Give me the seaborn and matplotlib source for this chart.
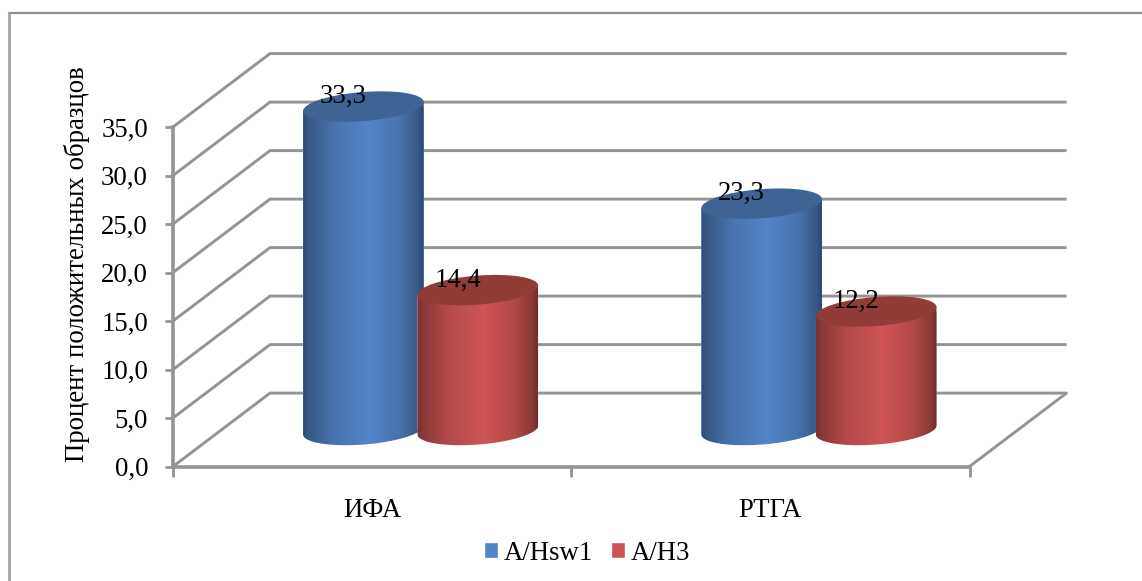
import numpy as np
import pandas as pd
import matplotlib.pyplot as plt
import seaborn as sns
from matplotlib.colors import LinearSegmentedColormap
from matplotlib.lines import Line2D
from matplotlib.patches import Ellipse
from matplotlib.path import Path
from matplotlib.transforms import IdentityTransform

methods = ['ИФА', 'РТГА']
series_names = ['A/Hsw1', 'A/H3']
hsw1_values = [33.3, 23.3]
h3_values = [14.4, 12.2]
y_ticks = [0, 5, 10, 15, 20, 25, 30, 35]

W, H = 1142, 581
GRAY = '#949494'

sns.set_theme(style='white')
plt.rcParams['font.family'] = ['Liberation Serif', 'DejaVu Serif']
FS = 19.3


def box(left, top, right, bottom):
    # pixel box to figure fractions
    return [left / W, 1 - bottom / H, (right - left) / W, (bottom - top) / H]


df = pd.DataFrame({
    'method': methods * 2,
    'series': [series_names[0]] * 2 + [series_names[1]] * 2,
    'value': hsw1_values + h3_values,
})

fig = plt.figure(figsize=(W / 100, H / 100), dpi=100, facecolor='white')
# chart frame, only the top and left edges are in the crop
fig.add_artist(Line2D([8.5 / W, 1], [1 - 12.5 / H, 1 - 12.5 / H], color='#8f8f8f', lw=1.6))
fig.add_artist(Line2D([8.5 / W, 8.5 / W], [0, 1 - 12.5 / H], color='#a3a3a3', lw=2))

# front plane of the fake 3d box, walls drawn from the ticks
ax = fig.add_axes(box(173, 127, 969.5, 466.5))
ax.set_xlim(-0.5, 1.5)
ax.set_ylim(0, 35)
ax.patch.set_alpha(0)
dx = 97 / 398.25
dy = 73.4 / 9.7
for v in y_ticks:
    ax.plot([-0.5, -0.5 + dx, 1.5 + dx], [v, v + dy, v + dy], color=GRAY, lw=2.1,
            clip_on=False, solid_joinstyle='miter', solid_capstyle='butt', zorder=1)
ax.plot([1.5, 1.5 + dx], [0, dy], color=GRAY, lw=2.1, clip_on=False, zorder=1)

sns.despine(ax=ax)
for side in ['left', 'bottom']:
    ax.spines[side].set_color(GRAY)
    ax.spines[side].set_linewidth(2.6)
ax.set_yticks(y_ticks)
ax.set_yticklabels([f'{v:.1f}'.replace('.', ',') for v in y_ticks], fontsize=FS, color='black')
ax.set_xticks([0, 1])
ax.set_xticklabels(methods, fontsize=FS, color='black')
ax.set_xticks([-0.5, 0.5, 1.5], minor=True)
ax.tick_params(axis='y', direction='out', length=6, width=2, color=GRAY, pad=12, left=True)
ax.tick_params(axis='x', which='major', length=0, pad=23)
ax.tick_params(axis='x', which='minor', direction='out', length=7, width=2, color=GRAY, bottom=True)
ax.set_ylabel('Процент положительных образцов', fontsize=FS, color='black')
ax.yaxis.set_label_coords((90 - 173) / 796.5, (466.5 - 264) / 339.5)

# bars sit halfway into the box, axes runs a bit below zero for the round base
UNIT = 340 / 35
bar_ax = fig.add_axes(box(221.5, 90, 1018, 430 + 3 * UNIT), zorder=3)
bar_ax.patch.set_alpha(0)
palette = dict(zip(series_names, ['#5285c8', '#cd5453']))
sns.barplot(data=df, x='method', y='value', hue='series', hue_order=series_names, order=methods,
            palette=palette, width=0.575, saturation=1, gap=0, ax=bar_ax)
bar_ax.set_xlim(-0.5, 1.5)
bar_ax.set_ylim(-3, 35)

handles, labels = bar_ax.get_legend_handles_labels()
bar_ax.get_legend().remove()
fig.legend(handles, labels, loc='center', bbox_to_anchor=(587 / W, 1 - 553 / H), ncol=2, frameon=False,
           fontsize=FS, handlelength=0.52, handleheight=0.52, handletextpad=0.22, columnspacing=0.66,
           labelcolor='black')
bar_ax.axis('off')

stops = [0, 0.04, 0.25, 0.55, 0.8, 0.96, 1]
shade = [0.58, 0.66, 0.86, 1.0, 0.86, 0.66, 0.54]
side_base = {'A/Hsw1': np.array([0.322, 0.525, 0.79]), 'A/H3': np.array([0.81, 0.335, 0.33])}
top_color = {'A/Hsw1': '#3d6494', 'A/H3': '#923c38'}

ELL_W = 121
ELL_H = 29
TILT = np.deg2rad(4.5)


def ellipse_point(cx, cy, t):
    ex = ELL_W / 2 * np.cos(t)
    ey = ELL_H / 2 * np.sin(t)
    return (cx + ex * np.cos(TILT) - ey * np.sin(TILT),
            cy + ex * np.sin(TILT) + ey * np.cos(TILT))


bars = [p for c in bar_ax.containers for p in c]
names = [n for n in series_names for _ in methods]
# draw A/Hsw1 then A/H3 so the red one overlaps
for i, (bar, name) in enumerate(zip(bars, names)):
    xc = bar.get_x() + bar.get_width() / 2
    val = bar.get_height()
    cx, top = bar_ax.transData.transform((xc, val))
    _, base = bar_ax.transData.transform((xc, 0))

    # side of the cylinder: top edge, then the lower half of the base ellipse
    t = np.linspace(np.pi, 2 * np.pi, 60)
    bx, by = ellipse_point(cx, base, t)
    tl = ellipse_point(cx, top, np.pi)
    tr = ellipse_point(cx, top, 0)
    pts = [tl] + list(zip(bx, by)) + [tr, tl]
    body = Path(pts)

    half = (ELL_W / 2) / 398.5
    bar.set_x(xc - half)
    bar.set_width(2 * half)
    bar.set_zorder(2 + i)
    bar.set_clip_path(body, IdentityTransform())

    cmap = LinearSegmentedColormap.from_list(
        name + str(i), [(s, tuple(side_base[name] * k)) for s, k in zip(stops, shade)])
    grad = np.linspace(0, 1, 200)[None, :]
    im = bar_ax.imshow(grad, extent=(xc - half, xc + half, -3, val + 3), aspect='auto', cmap=cmap,
                       zorder=2 + i, interpolation='bilinear')
    im.set_clip_path(body, IdentityTransform())

    bar_ax.add_patch(Ellipse((cx, top), ELL_W, ELL_H, angle=np.rad2deg(TILT), transform=IdentityTransform(),
                             facecolor=top_color[name], edgecolor='none', zorder=2 + i, clip_on=False))
    bar_ax.annotate(f'{val:.1f}'.replace('.', ','), (xc, val), xytext=(-20, 10), textcoords='offset pixels',
                    ha='center', va='center', fontsize=FS, color='black', zorder=10, annotation_clip=False)

bar_ax.set_xlim(-0.5, 1.5)
bar_ax.set_ylim(-3, 35)

plt.savefig('out.png', dpi=100)
